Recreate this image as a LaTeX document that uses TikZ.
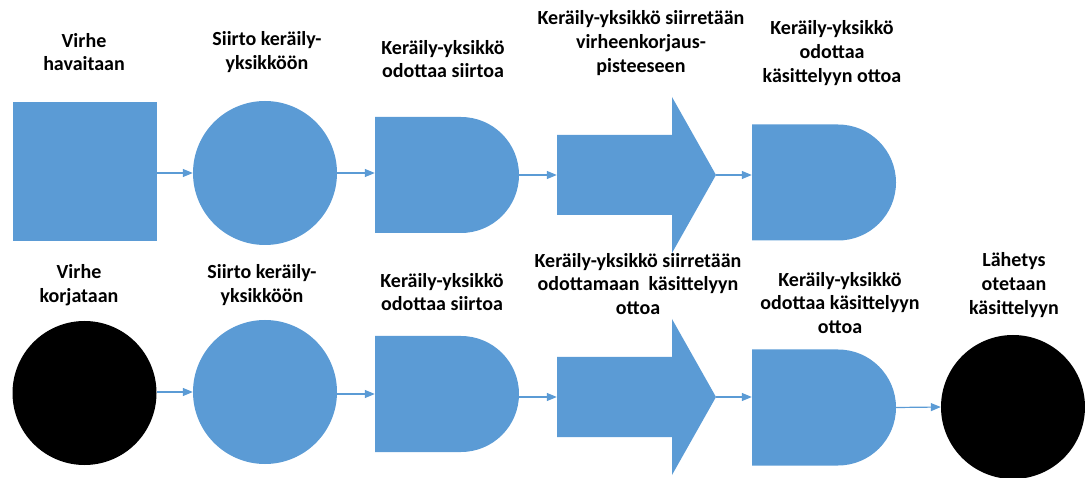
\documentclass[tikz,border=0pt]{standalone}
\usepackage{fontspec}
\setmainfont{Carlito}
\usepackage{tikz}
\usetikzlibrary{arrows.meta,positioning}
\definecolor{flowblue}{HTML}{5B9BD5}
\newcommand{\lblfont}{\bfseries\fontsize{20pt}{23.8pt}\selectfont}
\tikzset{
  sqbox/.style={rectangle, fill=flowblue, minimum width=144pt, minimum height=139pt, inner sep=0pt},
  roundbox/.style={circle, fill=flowblue, minimum size=144pt, inner sep=0pt},
  endbox/.style={circle, fill=black, minimum size=144pt, inner sep=0pt},
  delaybox/.style={rectangle, minimum width=144pt, minimum height=116pt, inner sep=0pt,
    path picture={\fill[flowblue] (path picture bounding box.south west) -- (path picture bounding box.north west)
      -- ([xshift=-58pt]path picture bounding box.north east) arc[start angle=90, end angle=-90, radius=58pt] -- cycle;}},
  movebox/.style={rectangle, minimum width=159pt, minimum height=156pt, inner sep=0pt,
    path picture={\fill[flowblue] ([yshift=40pt]path picture bounding box.west)
      -- ([xshift=-44pt,yshift=40pt]path picture bounding box.east) -- ([xshift=-44pt]path picture bounding box.north east)
      -- (path picture bounding box.east) -- ([xshift=-44pt]path picture bounding box.south east)
      -- ([xshift=-44pt,yshift=-40pt]path picture bounding box.east) -- ([yshift=-40pt]path picture bounding box.west) -- cycle;}},
  lbl/.style={align=center, font=\lblfont},
  conn/.style={-{Triangle[length=10pt,width=8pt]}, draw=flowblue, line width=1.2pt}
}

\begin{document}
\begin{tikzpicture}[x=1pt,y=1pt]
\useasboundingbox (0,0) rectangle (1085,477);

% error handling row
\node[sqbox] (detect) at (84.5,305.5) {};
\node[roundbox] (transfer1) at (265,304) {};
\node[delaybox] (wait1) at (447,302) {};
\node[movebox] (carry1) at (636.5,302) {};
\node[delaybox] (queue1) at (824,294.5) {};

\node[lbl] (detect-l) at (84,425) {Virhe\\havaitaan};
\node[lbl] (transfer1-l) at (267,425) {Siirto keräily-\\yksikköön};
\node[lbl] (wait1-l) at (443,418) {Keräily-yksikkö\\odottaa siirtoa};
\node[lbl] (carry1-l) at (641,434) {Keräily-yksikkö siirretään\\virheenkorjaus-\\pisteeseen};
\node[lbl] (queue1-l) at (832,424) {Keräily-yksikkö\\odottaa\\käsittelyyn ottoa};

% return row
\node[endbox] (fixed) at (84.5,84) {};
\node[roundbox] (transfer2) at (265,85) {};
\node[delaybox] (wait2) at (447,83) {};
\node[movebox] (carry2) at (636.5,80) {};
\node[delaybox] (queue2) at (824,69.5) {};
\node[endbox] (ship) at (1013,70) {};

\node[lbl] (fixed-l) at (79,192) {Virhe\\korjataan};
\node[lbl] (transfer2-l) at (262,192) {Siirto keräily-\\yksikköön};
\node[lbl] (wait2-l) at (442,185) {Keräily-yksikkö\\odottaa siirtoa};
\node[lbl] (carry2-l) at (638,193) {Keräily-yksikkö siirretään\\odottamaan\ \ käsittelyyn\\ottoa};
\node[lbl] (queue2-l) at (840,174) {Keräily-yksikkö\\odottaa käsittelyyn\\ottoa};
\node[lbl] (ship-l) at (1014,192) {Lähetys\\otetaan\\käsittelyyn};

\draw[conn] (detect.east |- transfer1.west) -- (transfer1.west);
\draw[conn] (transfer1.east) -- (transfer1.east -| wait1.west);
\draw[conn] (wait1.east) -- (carry1.west);
\draw[conn] (carry1.east) -- (carry1.east -| queue1.west);

\draw[conn] (fixed.east |- transfer2.west) -- (transfer2.west);
\draw[conn] (transfer2.east |- wait2.west) -- (wait2.west);
\draw[conn] (wait2.east |- carry2.west) -- (carry2.west);
\draw[conn] (carry2.east) -- (carry2.east -| queue2.west);
\draw[conn] (queue2.east) -- (ship.west);
\end{tikzpicture}
\end{document}
